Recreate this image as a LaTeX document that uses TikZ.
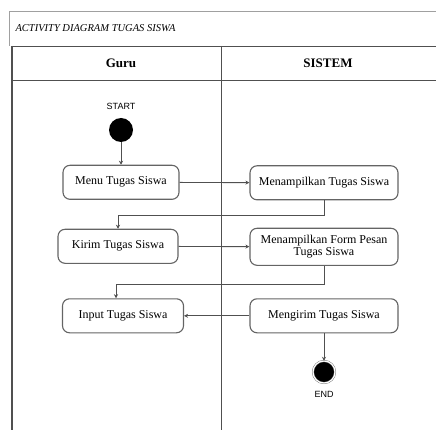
\documentclass[tikz,border=0pt]{standalone}
\usepackage{fontspec}
\setmainfont{Liberation Serif}
\setsansfont{Liberation Sans}
\usetikzlibrary{positioning}
\usetikzlibrary{arrows.meta}
\usetikzlibrary{calc}
\definecolor{lanegray}{RGB}{80,80,80}
\definecolor{framegray}{RGB}{160,160,160}
\definecolor{boxgray}{RGB}{100,100,100}
\tikzset{act/.style={draw=boxgray,line width=1.1pt,rounded corners=7pt,minimum height=34pt,align=center,inner sep=2pt,font=\fontsize{12}{12}\selectfont}}
\tikzset{sdot/.style={circle,fill=black,minimum size=24pt,inner sep=0pt,outer sep=0pt}}
\tikzset{edot/.style={circle,draw=boxgray,fill=black,double=white,double distance=1.2pt,minimum size=22pt,inner sep=0pt}}
\tikzset{line/.style={lanegray,>={Stealth[length=4pt,width=4pt]},line width=0.9pt}}
\tikzset{lbl/.style={font=\sffamily\fontsize{9}{9}\selectfont}}

\begin{document}
\begin{tikzpicture}[x=1pt,y=-1pt]
        \useasboundingbox (0,0) rectangle (436,430);
        % swimlane frame
        \draw[framegray,line width=0.9pt] (436,11) -- (9,11) -- (9,46);
        \draw[lanegray,line width=0.9pt] (12,46) -- (436,46);
        \draw[lanegray,line width=0.9pt] (12,80) -- (436,80);
        \draw[lanegray,line width=1.6pt] (12,46) -- (12,430);
        \draw[lanegray,line width=0.9pt] (221,46) -- (221,430);
        \node[anchor=west,font=\itshape\fontsize{10.5}{11}\selectfont] (title) at (12,28) {ACTIVITY DIAGRAM TUGAS SISWA};
        \node[font=\bfseries\fontsize{13}{13}\selectfont] (guru) at (121,63) {Guru};
        \node[font=\bfseries\fontsize{13}{13}\selectfont] (sistem) at (328,63) {SISTEM};
        % activities
        \node[sdot] (start) at (121,130) {};
        \node[lbl,above=5pt of start] (startlbl) {START};
        \node[act,minimum width=116pt] (menu) at (121,182.3) {Menu Tugas Siswa};
        \node[act,minimum width=148pt] (tampil) at (324,182.8) {Menampilkan Tugas Siswa};
        \node[act,minimum width=120pt] (kirim) at (118,246.3) {Kirim Tugas Siswa};
        \node[act,minimum width=148pt,minimum height=37pt] (form) at (324,246.8) {Menampilkan Form Pesan\\Tugas Siswa};
        \node[act,minimum width=121pt] (input) at (123,315.8) {Input Tugas Siswa};
        \node[act,minimum width=148pt] (kirimsis) at (324,315.8) {Mengirim Tugas Siswa};
        \node[edot] (end) at (324,372) {};
        \node[lbl,below=5pt of end] (endlbl) {END};
        % flows
        \draw[line,->] (start) -- (menu);
        \draw[line,->] (menu) -- (tampil);
        \draw[line,->] (tampil.south) -- ++(0,15) -| (kirim.north);
        \draw[line,->] (kirim) -- (form);
        \draw[line,->] (form.south) -- ++(0,19) -| ([xshift=-7pt]input.north);
        \draw[line,->] (kirimsis) -- (input);
        \draw[line,->] (kirimsis) -- (end);
      \end{tikzpicture}
\end{document}
